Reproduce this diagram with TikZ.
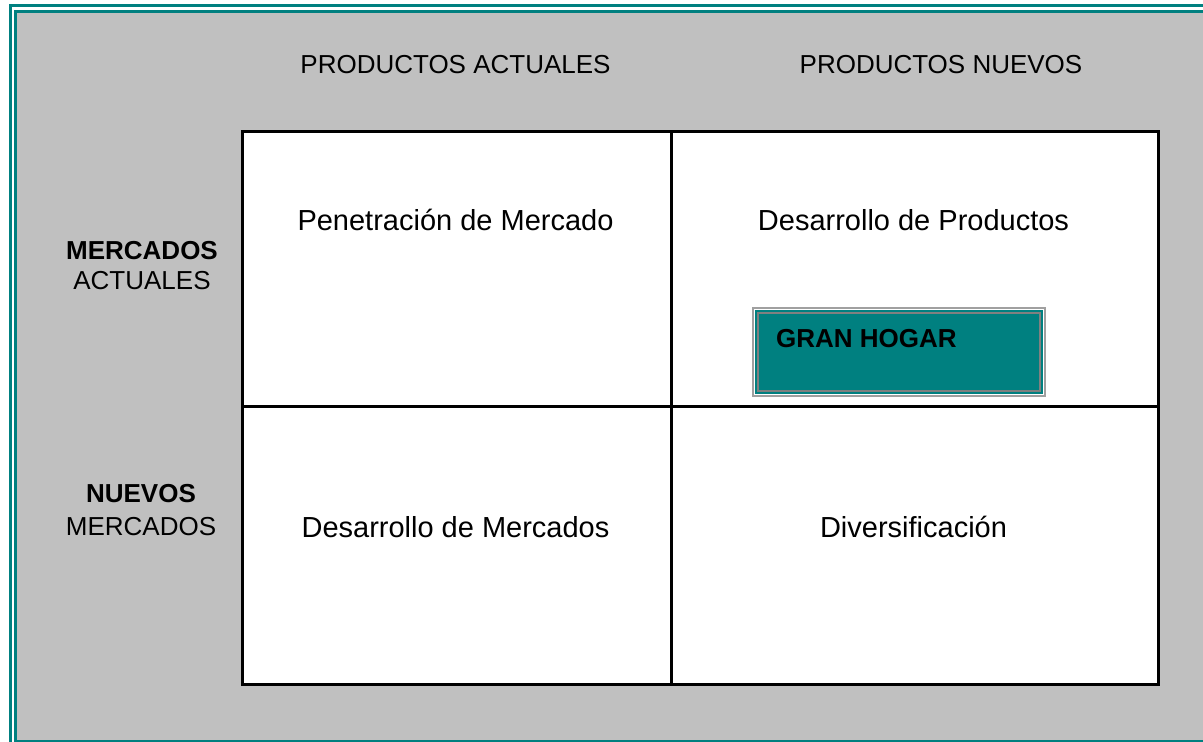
\documentclass[tikz,border=0pt]{standalone}
\usepackage{fontspec}
\setmainfont{Liberation Sans}
\definecolor{bgray}{HTML}{C0C0C0}
\definecolor{teal}{HTML}{008080}
\definecolor{lgray}{HTML}{A0A0A0}
\definecolor{dgray}{HTML}{808080}
\begin{document}
\begin{tikzpicture}[x=1pt,y=-1pt,
  lbl/.style={inner sep=0pt,anchor=base,font=\fontsize{26}{30}\selectfont},
  lblb/.style={lbl,font=\fontsize{26}{30}\selectfont\bfseries},
  celltxt/.style={inner sep=0pt,anchor=base,font=\fontsize{29}{34}\selectfont},
  gridline/.style={draw=black,line width=3pt}]
\useasboundingbox (0,0) rectangle (1203,742);
\begin{scope}
\clip (0,0) rectangle (1203,742);
\fill[white] (0,0) rectangle (1203,742);
\fill[teal] (9,4) rectangle (1260,800);
\fill[white] (12,7) rectangle (1260,800);
\fill[teal] (14,10) rectangle (1260,800);
\fill[bgray] (17,13) rectangle (1260,740);
\end{scope}
% grid
\node[gridline,fill=white,minimum width=429pt,minimum height=275pt,inner sep=0pt,anchor=north west] (c11) at (241,130) {};
\node[gridline,fill=white,minimum width=487pt,minimum height=275pt,inner sep=0pt,anchor=north west] (c12) at (670,130) {};
\node[gridline,fill=white,minimum width=429pt,minimum height=278pt,inner sep=0pt,anchor=north west] (c21) at (241,405) {};
\node[gridline,fill=white,minimum width=487pt,minimum height=278pt,inner sep=0pt,anchor=north west] (c22) at (670,405) {};
% headers
\node[lbl] (h1) at (455.5,73) {PRODUCTOS ACTUALES};
\node[lbl] (h2) at (941,73) {PRODUCTOS NUEVOS};
\node[lblb] (r1a) at (142,259) {MERCADOS};
\node[lbl] (r1b) at (142,289) {ACTUALES};
\node[lblb] (r2a) at (141,502) {NUEVOS};
\node[lbl] (r2b) at (141,535) {MERCADOS};
% cells
\node[celltxt] (t11) at (455.5,230) {Penetración de Mercado};
\node[celltxt] (t12) at (913.5,230) {Desarrollo de Productos};
\node[celltxt] (t21) at (455.5,537) {Desarrollo de Mercados};
\node[celltxt] (t22) at (913.5,537) {Diversificación};
% GRAN HOGAR box
\fill[lgray] (752,307) rectangle (1046,397);
\fill[white] (754,309) rectangle (1044,395);
\fill[teal] (755,310) rectangle (1043,394);
\fill[dgray] (757,312) rectangle (1041,392);
\node[fill=teal,inner sep=0pt,minimum width=280pt,minimum height=76pt,anchor=north west] (gh) at (759,314) {};
\node[lblb,anchor=base west] (ght) at (776,347) {GRAN HOGAR};
\end{tikzpicture}
\end{document}
